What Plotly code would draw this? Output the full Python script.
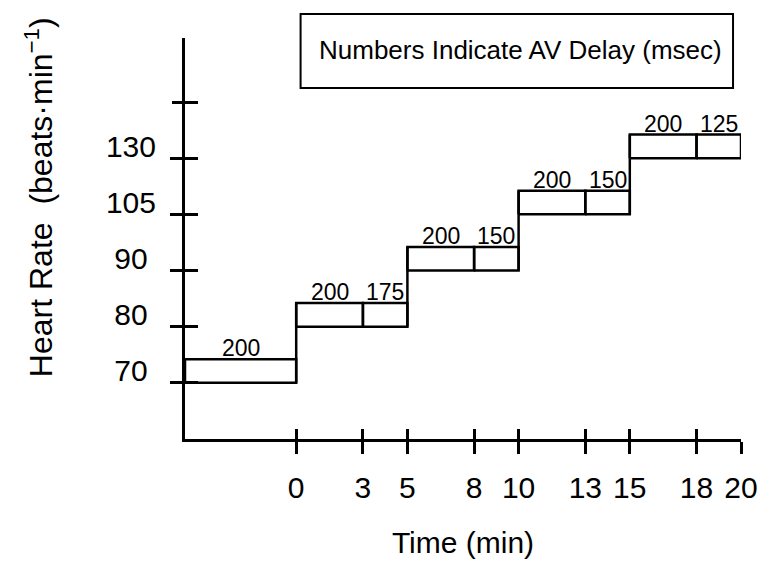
import plotly.graph_objects as go

# Heart-rate steps: each level is held over a time window; within a window the
# AV delay changes at the split time.
levels = [70, 80, 90, 105, 130]            # beats/min, drawn at equal spacing
level_start = [-5, 0, 5, 10, 15]           # min
level_split = [None, 3, 8, 13, 18]         # min, where the AV delay changes
level_end = [0, 5, 10, 15, 20]             # min
delay_first = [200, 200, 200, 200, 200]    # msec
delay_second = [None, 175, 150, 150, 125]  # msec

x_ticks = [0, 3, 5, 8, 10, 13, 15, 18, 20]
y_label_pos = [0, 1, 2, 3, 4]
y_label_text = ["70", "80", "90", "105", "130"]
y_extra_tick = [5]

BOX_H = 0.42
FONT = "Liberation Sans, Arial, Helvetica, sans-serif"

# Build sub-box outlines and the connectors between successive levels
xs, ys = [], []
label_x, label_y, label_t = [], [], []
for i, lv in enumerate(levels):
    b, t = i, i + BOX_H
    cuts = [level_start[i]] + ([level_split[i]] if level_split[i] is not None else []) + [level_end[i]]
    delays = [delay_first[i]] + ([delay_second[i]] if delay_second[i] is not None else [])
    for k in range(len(cuts) - 1):
        x0, x1 = cuts[k], cuts[k + 1]
        xs += [x0, x1, x1, x0, x0, None]
        ys += [b, b, t, t, b, None]
        label_x.append((x0 + x1) / 2)
        label_y.append(t)
        label_t.append(str(delays[k]))
    if i + 1 < len(levels):
        xs += [level_end[i], level_end[i], None]
        ys += [b, i + 1 + BOX_H, None]

fig = go.Figure()
fig.add_trace(go.Scatter(x=xs, y=ys, mode="lines",
                         line=dict(color="black", width=2.5),
                         hoverinfo="skip", showlegend=False))
# companion traces so the extra tick axes are rendered
fig.add_trace(go.Scatter(x=[None], y=[None], xaxis="x2", yaxis="y2",
                         showlegend=False, hoverinfo="skip"))
fig.add_trace(go.Scatter(x=[None], y=[None], xaxis="x", yaxis="y3",
                         showlegend=False, hoverinfo="skip"))

for lx, ly, lt in zip(label_x, label_y, label_t):
    fig.add_annotation(x=lx, y=ly, text=lt, showarrow=False,
                       yanchor="bottom", yshift=-4,
                       font=dict(family=FONT, size=23, color="black"))

x_range = [-5, 20]
y_range = [-1, 6.14]

tick_font = dict(family=FONT, size=30, color="black")

fig.update_layout(
    width=770, height=567,
    margin=dict(l=185, r=27, t=38, b=127),
    paper_bgcolor="white", plot_bgcolor="white",
    font=dict(family=FONT, color="black"),
    xaxis=dict(range=x_range, showgrid=False, zeroline=False,
               showline=True, linecolor="black", linewidth=2.5,
               tickmode="array", tickvals=x_ticks,
               ticks="outside", ticklen=12, tickwidth=2.5, tickcolor="black",
               tickfont=tick_font, ticklabelstandoff=8,
               title=dict(text="Time (min)", standoff=30,
                          font=dict(family=FONT, size=30, color="black"))),
    yaxis=dict(range=y_range, showgrid=False, zeroline=False,
               showline=True, linecolor="black", linewidth=3,
               tickmode="array", tickvals=y_label_pos,
               ticktext=[t if len(t) != 2 else t + "\u00a0" for t in y_label_text],
               ticks="outside", ticklen=12, tickwidth=2.5, tickcolor="black",
               tickfont=tick_font, ticklabelshift=-12, ticklabelstandoff=8),
    xaxis2=dict(range=x_range, overlaying="x", anchor="y", side="bottom",
                showgrid=False, zeroline=False, showline=False,
                tickmode="array", tickvals=x_ticks, showticklabels=False,
                ticks="inside", ticklen=10, tickwidth=2.5, tickcolor="black"),
    yaxis2=dict(range=y_range, overlaying="y", anchor="x", side="left",
                showgrid=False, zeroline=False, showline=False,
                tickmode="array", tickvals=y_label_pos + y_extra_tick,
                showticklabels=False,
                ticks="inside", ticklen=13, tickwidth=2.5, tickcolor="black"),
    yaxis3=dict(range=y_range, overlaying="y", anchor="x", side="left",
                showgrid=False, zeroline=False, showline=False,
                tickmode="array", tickvals=y_extra_tick, showticklabels=False,
                ticks="outside", ticklen=12, tickwidth=2.5, tickcolor="black"),
)

# Key box
fig.add_shape(type="rect", xref="paper", yref="paper",
              x0=(301 - 185) / 558, x1=(735 - 185) / 558,
              y0=1 - (88 - 38) / 402, y1=1 - (14 - 38) / 402,
              line=dict(color="black", width=2), fillcolor="white")
fig.add_annotation(xref="paper", yref="paper",
                   x=(522 - 185) / 558, y=1 - (50 - 38) / 402,
                   xanchor="center", yanchor="middle",
                   text="Numbers Indicate AV Delay (msec)", showarrow=False,
                   font=dict(family=FONT, size=26, color="black"))

# Vertical axis title
fig.add_annotation(xref="paper", yref="paper",
                   x=(38 - 185) / 558, y=1 - (198 - 38) / 402,
                   xanchor="center", yanchor="middle",
                   text="Heart Rate  (beats\u00b7min<sup>\u22121</sup>)",
                   textangle=-90, showarrow=False,
                   font=dict(family=FONT, size=32, color="black"))

fig.write_html("out.html")
